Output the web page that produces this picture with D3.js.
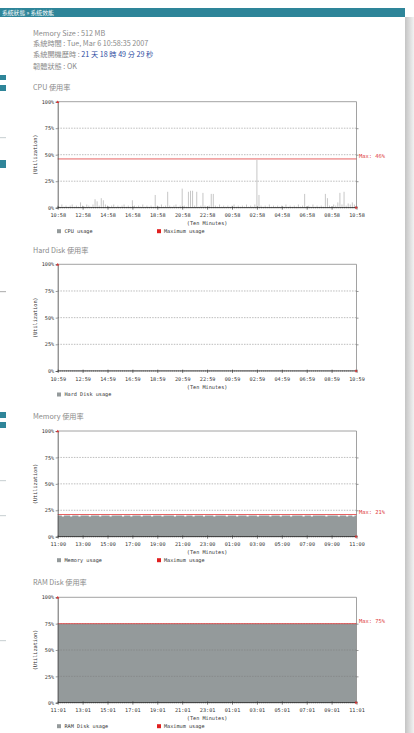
<!DOCTYPE html>
<html><head><meta charset="utf-8">
<script src="https://cdn.jsdelivr.net/npm/d3@7"></script>
<style>body{margin:0;background:#fff;overflow:hidden}</style>
</head><body><svg id="c" width="414" height="733"></svg>
<script>
// ---- data ----
const cpuLabels  = ["10:58","12:58","14:58","16:58","18:58","20:58","22:58","00:58","02:58","04:58","06:58","08:58","10:58"];
const diskLabels = ["10:59","12:59","14:59","16:59","18:59","20:59","22:59","00:59","02:59","04:59","06:59","08:59","10:59"];
const memLabels  = ["11:00","13:00","15:00","17:00","19:00","21:00","23:00","01:00","03:00","05:00","07:00","09:00","11:00"];
const ramLabels  = ["11:01","13:01","15:01","17:01","19:01","21:01","23:01","01:01","03:01","05:01","07:01","09:01","11:01"];
const yTicks = [0,25,50,75,100];
const yTickLabels = ["0%","25%","50%","75%","100%"];

const cpuValues = [
 2,1,3,1,2,1,2,3,1,2,1,5,
 2,1,3,2,1,3,8,6,2,9,7,3,
 2,1,2,3,1,2,1,2,3,1,2,1,
 7,2,1,2,1,3,1,2,1,2,1,12,
 2,1,3,1,2,15,2,1,2,3,1,2,
 18,2,1,15,16,16,2,15,1,2,14,2,
 1,2,13,13,2,1,3,1,2,1,2,1,
 2,3,1,2,1,2,1,3,1,2,1,3,
 45,12,2,1,2,1,3,1,2,1,2,1,
 2,1,3,1,2,1,2,1,3,1,2,13,
 1,2,1,3,1,2,1,2,1,13,9,2,
 1,3,2,5,14,3,15,2,4,3,5,3,
 2];
const diskValues = [
 0,0,0,0,0,0,0,0,0,0,0,0, 0,0,0,0,0,0,0,0,0,0,0,0,
 0,0,0,0,0,0,0,0,0,0,0,0, 0,0,0,0,0,0,0,0,0,0,0,0,
 0,0,0,0,0,0,0,0,0,0,0,0, 0,0,0,0,0,0,0,0,0,0,0,0,
 0,0,0,0,0,0,0,0,0,0,0,0, 0,0,0,0,0,0,0,0,0,0,0,0,
 0,0,0,0,0,0,0,0,0,0,0,0, 0,0,0,0,0,0,0,0,0,0,0,0,
 0,0,0,0,0,0,0,0,0,0,0,0, 0,0,0,0,0,0,0,0,0,0,0,0,
 0];
const memValues = [
 20,20,19,20,20,20,19,20,20,20,19,20,
 20,20,20,19,20,20,20,20,19,20,20,20,
 20,19,20,20,20,20,20,19,20,20,20,19,
 20,20,20,20,19,20,20,20,20,19,20,20,
 20,20,19,20,20,20,20,20,19,20,20,20,
 20,19,20,20,20,19,20,20,20,20,19,20,
 20,20,20,19,20,20,20,20,20,19,20,20,
 20,20,19,20,20,20,20,19,20,20,20,20,
 19,20,20,20,20,20,19,20,20,20,20,19,
 20,20,20,20,19,20,20,20,20,20,19,20,
 20,20,19,20,20,20,20,20,20,19,20,20,
 20,20,20,19,20,20,20,19,20,20,19,20,
 20];
const ramValues = [
 75,75,75,75,75,75,75,75,75,75,75,75, 75,75,75,75,75,75,75,75,75,75,75,75,
 75,75,75,75,75,75,75,75,75,75,75,75, 75,75,75,75,75,75,75,75,75,75,75,75,
 75,75,75,75,75,75,75,75,75,75,75,75, 75,75,75,75,75,75,75,75,75,75,75,75,
 75,75,75,75,75,75,75,75,75,75,75,75, 75,75,75,75,75,75,75,75,75,75,75,75,
 75,75,75,75,75,75,75,75,75,75,75,75, 75,75,75,75,75,75,75,75,75,75,75,75,
 75,75,75,75,75,75,75,75,75,75,75,75, 75,75,75,75,75,75,75,75,75,75,75,75,
 75];
const cpuMax = 46, memMax = 21, ramMax = 75;

// ---- page ----
const svg = d3.select("#c");
const CJK = "'Noto Sans CJK TC','Noto Sans',sans-serif";
const MONO = "'DejaVu Sans Mono','Liberation Mono',monospace";

// background artifacts on left edge
[[75,5],[85,6],[160,8],[412,6],[422,6]].forEach(([y,h])=>svg.append("rect").attr("x",0).attr("y",y).attr("width",6).attr("height",h).attr("fill","#2f8599"));
[[137,"#cfd6d8"],[291,"#b8b8b8"],[480,"#cfd6d8"],[515,"#cfd6d8"],[640,"#cfd6d8"]].forEach(([y,c])=>svg.append("rect").attr("x",0).attr("y",y).attr("width",6).attr("height",1.2).attr("fill",c));

// right shadow
const defs = svg.append("defs");
const g = defs.append("linearGradient").attr("id","sh").attr("x1","0").attr("x2","1");
g.append("stop").attr("offset","0").attr("stop-color","#c4c4c4");
g.append("stop").attr("offset","1").attr("stop-color","#f2f2f2");
svg.append("rect").attr("x",405).attr("y",17).attr("width",9).attr("height",716).attr("fill","url(#sh)");

// header bar
svg.append("rect").attr("x",0).attr("y",8).attr("width",405).attr("height",9).attr("fill","#2e8599");
svg.append("text").attr("x",2).attr("y",15).attr("font-family",CJK).attr("font-size",5.8).attr("fill","#fff").text("系統狀態 » 系統效能");

// info lines
const info = svg.append("g").attr("font-family",CJK).attr("font-size",7.2).attr("fill","#8a8a8a");
info.append("text").attr("x",33).attr("y",36).text("Memory Size : 512 MB");
info.append("text").attr("x",33).attr("y",46).text("系統時間 : Tue, Mar 6 10:58:35 2007");
const up = info.append("text").attr("x",33).attr("y",57);
up.append("tspan").text("系統開機歷時 : ");
up.append("tspan").attr("fill","#2b4aa0").text("21 天 18 時 49 分 29 秒");
info.append("text").attr("x",33).attr("y",69).text("韌體狀態 : OK");

// ---- charts ----
const charts = [
 {title:"CPU 使用率", ty:90, top:101.7, bot:207.7, labels:cpuLabels, values:cpuValues, kind:"bar", max:cpuMax, legend:"CPU usage"},
 {title:"Hard Disk 使用率", ty:253, top:264.3, bot:371, labels:diskLabels, values:diskValues, kind:"area", max:null, legend:"Hard Disk usage"},
 {title:"Memory 使用率", ty:419, top:431, bot:536.7, labels:memLabels, values:memValues, kind:"area", max:memMax, legend:"Memory usage"},
 {title:"RAM Disk 使用率", ty:585, top:597.3, bot:702.7, labels:ramLabels, values:ramValues, kind:"area", max:ramMax, legend:"RAM Disk usage"}
];
const L = 57.7, R = 356.5;

charts.forEach(c=>{
  const x = d3.scaleLinear().domain([0,c.values.length-1]).range([L,R]);
  const y = d3.scaleLinear().domain([0,100]).range([c.bot,c.top]);
  const G = svg.append("g");
  G.append("text").attr("x",33).attr("y",c.ty).attr("font-family",CJK).attr("font-size",7.2).attr("fill","#8a8a8a").text(c.title);

  // data
  if(c.kind==="bar"){
    G.append("g").selectAll("line").data(c.values).join("line")
      .attr("x1",(d,i)=>x(i)).attr("x2",(d,i)=>x(i))
      .attr("y1",y(0)).attr("y2",d=>y(d))
      .attr("stroke","#b9b9b9").attr("stroke-width",0.8);
  } else {
    const area = d3.area().x((d,i)=>x(i)).y0(y(0)).y1(d=>y(d)).curve(d3.curveStepAfter);
    G.append("path").datum(c.values).attr("d",area).attr("fill","#949a9b");
  }

  // grid
  [25,50,75].forEach(v=>{
    G.append("line").attr("x1",L).attr("x2",R).attr("y1",y(v)).attr("y2",y(v))
      .attr("stroke","#7a7a7a").attr("stroke-width",0.5).attr("stroke-dasharray","1.5,1.2");
  });
  // frame
  G.append("line").attr("x1",L).attr("x2",R).attr("y1",y(100)).attr("y2",y(100)).attr("stroke","#8a8a8a").attr("stroke-width",0.8);
  G.append("line").attr("x1",R).attr("x2",R).attr("y1",y(100)).attr("y2",y(0)).attr("stroke","#8a8a8a").attr("stroke-width",0.8);

  // max line
  if(c.max!==null){
    G.append("line").attr("x1",L).attr("x2",R).attr("y1",y(c.max)).attr("y2",y(c.max)).attr("stroke","#e03a3a").attr("stroke-width",0.8);
    G.append("text").attr("x",R+2.5).attr("y",y(c.max)-1).attr("font-family",MONO).attr("font-size",5.4).attr("fill","#e03a3a").text("Max: "+c.max+"%");
  }

  // y axis
  const ya = d3.axisLeft(y).tickValues(yTicks).tickFormat((d,i)=>yTickLabels[i]).tickSize(2).tickPadding(1.5);
  const yg = G.append("g").attr("transform",`translate(${L},0)`).call(ya);
  yg.select(".domain").attr("stroke","#555").attr("stroke-width",0.9);
  yg.selectAll(".tick line").attr("stroke","#555").attr("stroke-width",0.6);
  yg.selectAll("text").attr("font-family",MONO).attr("font-size",5.2).attr("fill","#333");
  // right ticks
  G.append("g").attr("transform",`translate(${R},0)`).call(d3.axisRight(y).tickValues([25,50,75]).tickSize(2).tickFormat(""))
    .call(s=>{s.select(".domain").remove(); s.selectAll("line").attr("stroke","#555").attr("stroke-width",0.6);});

  // x axis minor & major
  const minor = d3.axisBottom(x).tickValues(d3.range(0,c.values.length)).tickSizeInner(1.2).tickSizeOuter(0).tickFormat("");
  const mg = G.append("g").attr("transform",`translate(0,${c.bot-0.6})`).call(minor);
  mg.select(".domain").attr("stroke","#333").attr("stroke-width",0.9);
  mg.selectAll("line").attr("stroke","#333").attr("stroke-width",0.5);
  G.append("g").attr("transform",`translate(0,${c.bot})`).call(d3.axisTop(x).tickValues(d3.range(0,c.values.length,12)).tickSize(1.4).tickFormat(""))
    .call(s=>{s.select(".domain").remove(); s.selectAll("line").attr("stroke","#333").attr("stroke-width",0.6);});
  const major = d3.axisBottom(x).tickValues(d3.range(0,c.values.length,12)).tickFormat((d,i)=>c.labels[i]).tickSize(2).tickPadding(4);
  const xg = G.append("g").attr("transform",`translate(0,${c.bot})`).call(major);
  xg.select(".domain").remove();
  xg.selectAll(".tick line").attr("stroke","#333").attr("stroke-width",0.6);
  xg.selectAll("text").attr("font-family",MONO).attr("font-size",5.2).attr("fill","#333");

  // arrows
  G.append("path").attr("d",`M${L-1.6},${c.top+1.2} L${L},${c.top-1.2} L${L+1.6},${c.top+1.2} Z`).attr("fill","#e03030");
  G.append("path").attr("d",`M${R-1.2},${c.bot-1.6} L${R+1.2},${c.bot} L${R-1.2},${c.bot+1.6} Z`).attr("fill","#e03030");

  // axis titles
  G.append("text").attr("x",(L+R)/2).attr("y",c.bot+17.5).attr("text-anchor","middle").attr("font-family",MONO).attr("font-size",5.2).attr("fill","#333").text("(Ten Minutes)");
  G.append("text").attr("transform",`translate(37,${(c.top+c.bot)/2}) rotate(-90)`).attr("text-anchor","middle").attr("font-family",MONO).attr("font-size",5.2).attr("fill","#333").text("(Utilization)");

  // legend
  const ly = c.bot+23.5;
  G.append("rect").attr("x",57).attr("y",ly-2).attr("width",4).attr("height",4).attr("fill","#949a9b");
  G.append("text").attr("x",64.5).attr("y",ly+1.8).attr("font-family",MONO).attr("font-size",5.2).attr("fill","#333").text(c.legend);
  if(c.max!==null){
    G.append("rect").attr("x",157).attr("y",ly-2).attr("width",4).attr("height",4).attr("fill","#e02020");
    G.append("text").attr("x",164).attr("y",ly+1.8).attr("font-family",MONO).attr("font-size",5.2).attr("fill","#333").text("Maximum usage");
  }
});
</script></body></html>
